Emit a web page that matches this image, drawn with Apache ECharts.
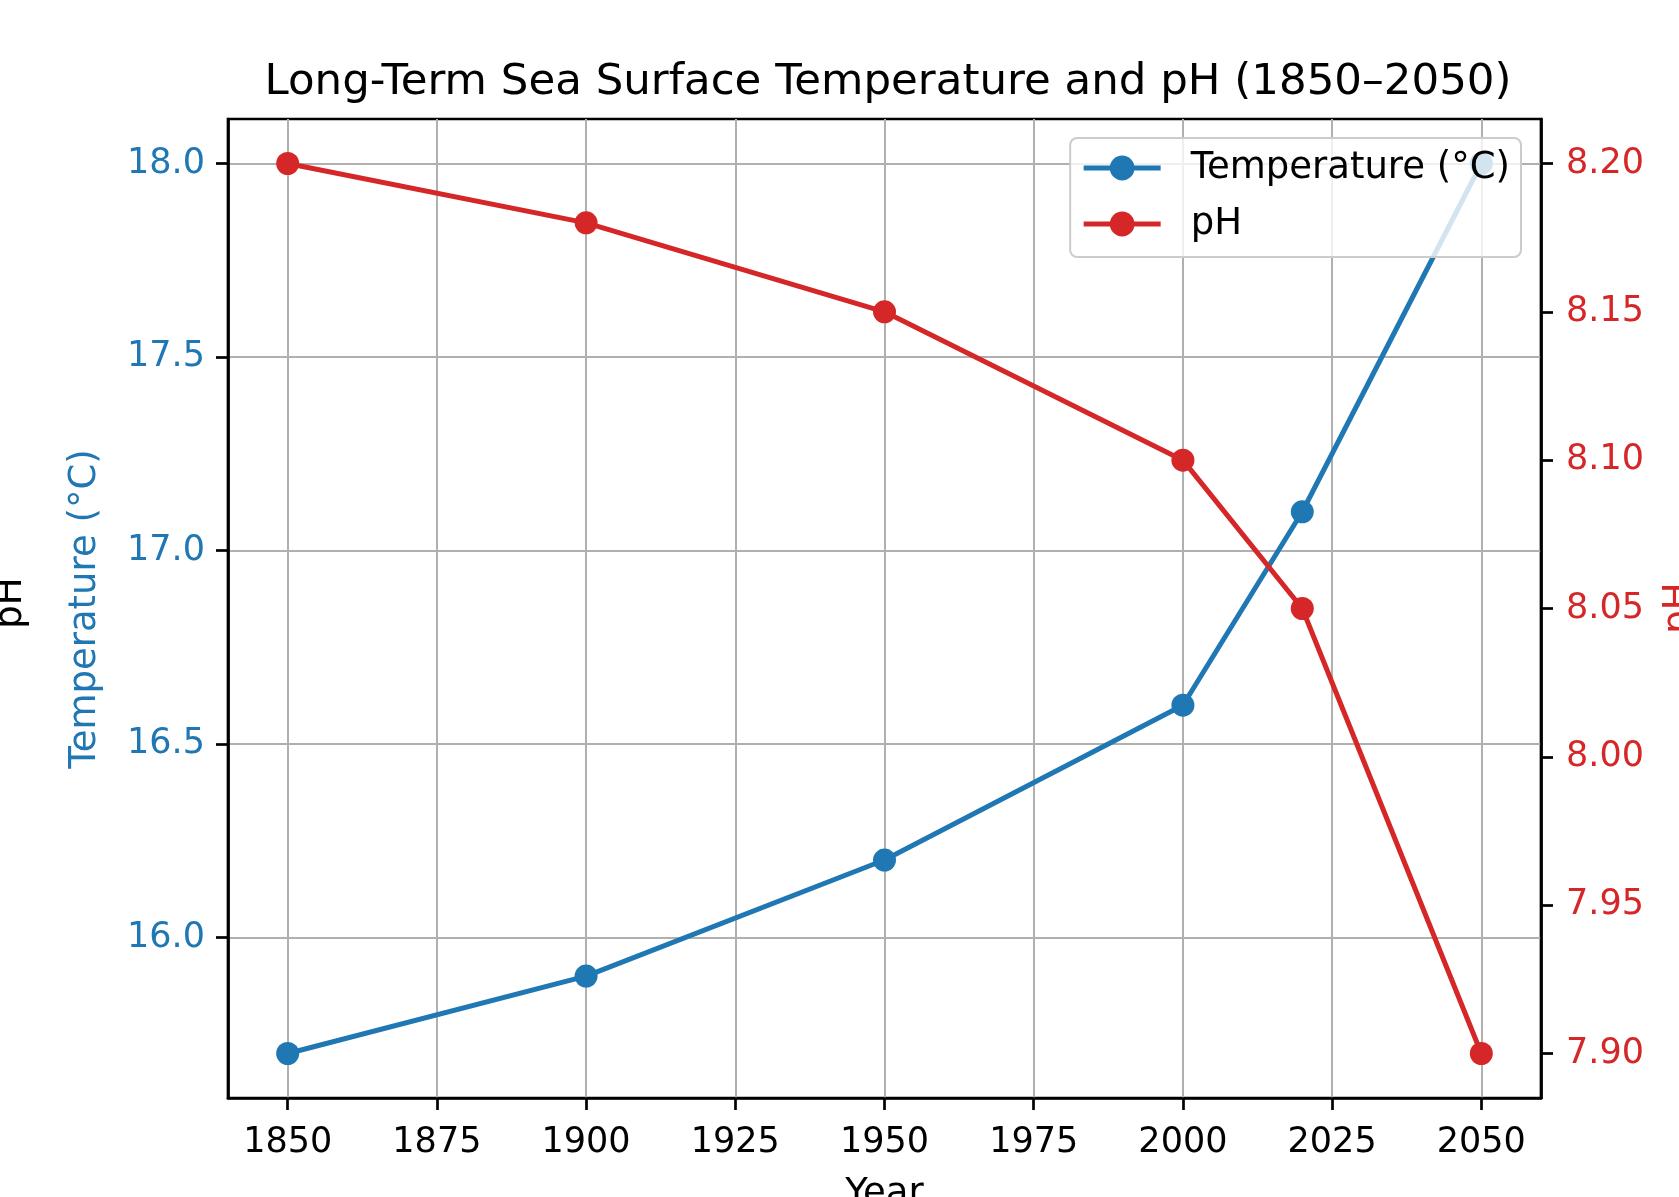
<!DOCTYPE html>
<html>
<head>
<meta charset="utf-8">
<script src="https://cdn.jsdelivr.net/npm/echarts@6/dist/echarts.min.js"></script>
<style>html,body{margin:0;padding:0;background:#fff}#c{width:1679px;height:1197px}</style>
</head>
<body>
<div id="c"></div>
<script>
const years = [1850, 1900, 1950, 2000, 2020, 2050];
const temperature = [15.7, 15.9, 16.2, 16.6, 17.1, 18.0];
const ph = [8.20, 8.18, 8.15, 8.10, 8.05, 7.90];
const xTicks = [1850, 1875, 1900, 1925, 1950, 1975, 2000, 2025, 2050];
const tempTicks = [16.0, 16.5, 17.0, 17.5, 18.0];
const phTicks = [7.90, 7.95, 8.00, 8.05, 8.10, 8.15, 8.20];

function pad(arr) {
  const lo = Math.min(...arr), hi = Math.max(...arr), m = (hi - lo) * 0.05;
  return [lo - m, hi + m];
}
const xr = pad(years), tr = pad(temperature), pr = pad(ph);

const FONT = 'DejaVu Sans';
const BLUE = '#1f77b4', RED = '#d62728';
const G = {left: 228, right: 138, top: 119, bottom: 99};

const chart = echarts.init(document.getElementById('c'));
chart.setOption({
  animation: false,
  backgroundColor: '#fff',
  textStyle: {fontFamily: FONT},
  title: {
    text: 'Long-Term Sea Surface Temperature and pH (1850\u20132050)',
    left: 883, top: 56, textAlign: 'center',
    textStyle: {fontFamily: FONT, fontSize: 43.5, fontWeight: 'normal', color: '#000'}
  },
  grid: {left: G.left, right: G.right, top: G.top, bottom: G.bottom, show: true,
         borderColor: '#000', borderWidth: 2.7, outerBoundsMode: 'none', containLabel: false},
  legend: {
    data: ['Temperature (\u00b0C)', 'pH'],
    orient: 'vertical', right: 158, top: 138,
    padding: [9, 11, 12, 11],
    itemWidth: 77, itemHeight: 31, itemGap: 14,
    lineStyle: {width: 5},
    backgroundColor: 'rgba(255,255,255,0.8)', borderColor: '#cccccc', borderWidth: 2, borderRadius: 7,
    textStyle: {fontFamily: FONT, fontSize: 37, color: '#000', lineHeight: 42, padding: [0, 0, 0, 25]}
  },
  xAxis: {
    type: 'value', min: xr[0], max: xr[1],
    axisLine: {show: true, onZero: false, lineStyle: {color: '#000', width: 2.7}},
    axisTick: {show: true, inside: false, length: 12, customValues: xTicks, lineStyle: {color: '#000', width: 2.7}},
    axisLabel: {customValues: xTicks, margin: 27, fontFamily: FONT, fontSize: 35, color: '#000',
                formatter: v => String(v)},
    splitLine: {show: true, lineStyle: {color: '#b0b0b0', width: 2}}
  },
  yAxis: [{
    type: 'value', position: 'left', min: tr[0], max: tr[1],
    axisLine: {show: true, onZero: false, lineStyle: {color: '#000', width: 2.7}},
    axisTick: {show: true, inside: false, length: 12, customValues: tempTicks, lineStyle: {color: '#000', width: 2.7}},
    axisLabel: {customValues: tempTicks, margin: 23, fontFamily: FONT, fontSize: 35, color: BLUE,
                padding: [8, 0, 0, 0], formatter: v => v.toFixed(1)},
    splitLine: {show: true, lineStyle: {color: '#b0b0b0', width: 2}}
  }, {
    type: 'value', position: 'right', min: pr[0], max: pr[1],
    axisLine: {show: true, onZero: false, lineStyle: {color: '#000', width: 2.7}},
    axisTick: {show: true, inside: false, length: 12, customValues: phTicks, lineStyle: {color: '#000', width: 2.7}},
    axisLabel: {customValues: phTicks, margin: 25, fontFamily: FONT, fontSize: 35, color: RED,
                padding: [8, 0, 0, 0], formatter: v => v.toFixed(2)},
    splitLine: {show: false}
  }],
  series: [{
    name: 'Temperature (\u00b0C)', type: 'line', yAxisIndex: 0,
    data: years.map((y, i) => [y, temperature[i]]),
    symbol: 'circle', symbolSize: 23,
    lineStyle: {color: BLUE, width: 5}, itemStyle: {color: BLUE}
  }, {
    name: 'pH', type: 'line', yAxisIndex: 1,
    data: years.map((y, i) => [y, ph[i]]),
    symbol: 'circle', symbolSize: 23,
    lineStyle: {color: RED, width: 5}, itemStyle: {color: RED}
  }],
  graphic: [
    {type: 'text', x: 85, y: 609, rotation: Math.PI / 2,
     style: {text: 'Temperature (\u00b0C)', fill: BLUE, font: '37px "DejaVu Sans"', align: 'center', verticalAlign: 'middle'}},
    {type: 'text', x: 11, y: 603, rotation: Math.PI / 2,
     style: {text: 'pH', fill: '#000', font: '37px "DejaVu Sans"', align: 'center', verticalAlign: 'middle'}},
    {type: 'text', x: 1679, y: 608, rotation: Math.PI / 2,
     style: {text: 'pH', fill: RED, font: '37px "DejaVu Sans"', align: 'center', verticalAlign: 'middle'}},
    {type: 'text', x: 884.5, y: 1194,
     style: {text: 'Year', fill: '#000', font: '37px "DejaVu Sans"', align: 'center', verticalAlign: 'middle'}}
  ]
});
</script>
</body>
</html>
